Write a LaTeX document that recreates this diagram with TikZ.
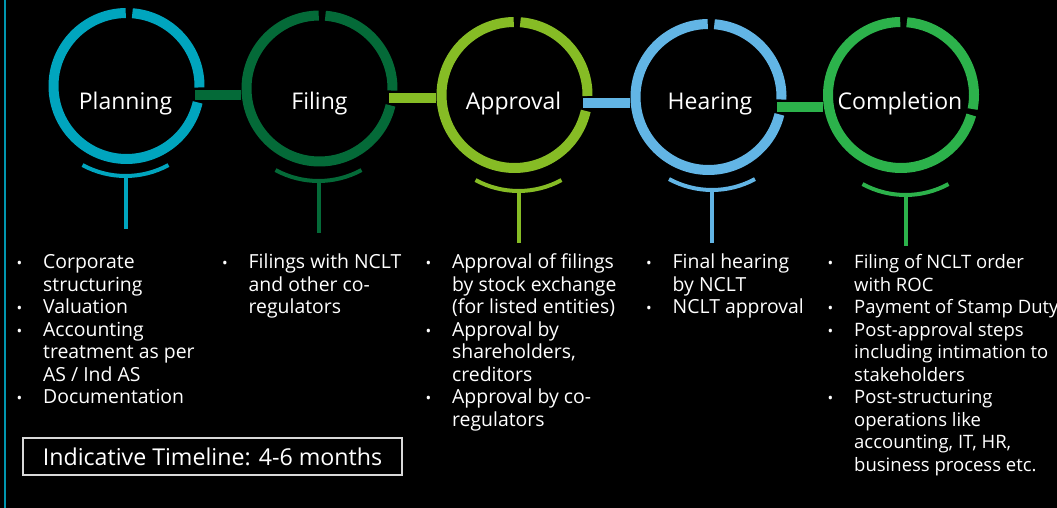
\documentclass[tikz,border=0pt]{standalone}
\usepackage{fontspec}
\setmainfont{Open Sans}
\usetikzlibrary{calc}
\definecolor{planc}{RGB}{0,165,190}
\definecolor{leftc}{RGB}{0,150,175}
\definecolor{filec}{RGB}{4,106,56}
\definecolor{apprc}{RGB}{134,188,37}
\definecolor{hearc}{RGB}{98,181,229}
\definecolor{compc}{RGB}{44,178,75}
\newcommand\bul{\makebox[26.5pt][l]{\fontsize{15}{15}\selectfont •}}
\newcommand\drawring[4]{%
  \draw[ringline,#2] (#1.center) ++(90.6:73) arc[start angle=90.6, end angle={360+#3-#4}, radius=73];
  \draw[ringline,#2] (#1.center) ++({#3+#4}:73) arc[start angle={#3+#4}, end angle=85.4, radius=73];}
\newcommand\drawpin[3]{%
  \draw[pinline,#3] ($(#1)+(0,90)+(241.5:90)$) arc[start angle=241.5, end angle=298.5, radius=90];
  \draw[pinline,#3] (#1) -- (#2);}
\begin{document}
\begin{tikzpicture}[x=1pt,y=1pt,
  ringnode/.style={circle,minimum size=156pt,inner sep=0pt},
  ringline/.style={line width=10pt},
  pinline/.style={line width=4pt},
  barline/.style={line width=10pt},
  lbl/.style={text=white,inner sep=0pt,anchor=base,font=\fontsize{23}{27}\selectfont},
  col/.style={text=white,inner sep=0pt,anchor=base west,font=\fontsize{19.4}{22.5}\selectfont},
  tlbox/.style={draw=white!85!black,line width=1.3pt,minimum width=379pt,minimum height=37pt,inner sep=0pt,text=white,font=\fontsize{23.2}{27}\selectfont}]
\useasboundingbox (0,0) rectangle (1057,508);
\fill[black] (0,0) rectangle (1057,508);
\draw[leftc,line width=2pt] (5,0) -- (5,508);

% circles (named)
\node[ringnode] (c1) at (126.5,422) {};
\node[ringnode] (c2) at (319.5,419.5) {};
\node[ringnode] (c3) at (514.5,413) {};
\node[ringnode] (c4) at (708.5,411) {};
\node[ringnode] (c5) at (901,413) {};

% connecting bars
\draw[barline,filec] ($(c1.center)+(68.5,-9)$) coordinate (b1) -- (b1 -| c2.west);
\draw[barline,apprc] ($(c2.center)+(69.5,-9.5)$) coordinate (b2) -- (b2 -| c3.west);
\draw[barline,hearc] ($(c3.center)+(68.5,-8.5)$) coordinate (b3) -- (b3 -| c4.west);
\draw[barline,compc] ($(c4.center)+(68.5,-10)$) coordinate (b4) -- (b4 -| c5.west);

% rings
\drawring{c1}{planc}{-7.08}{5.9}
\drawring{c2}{filec}{-7.48}{5.9}
\drawring{c3}{apprc}{-6.69}{5.9}
\drawring{c4}{hearc}{-7.87}{5.9}
\drawring{c5}{compc}{-13.5}{2.4}

% labels
\node[lbl] (t1) at (125.5,398) {Planning};
\node[lbl] (t2) at (319.5,398) {Filing};
\node[lbl] (t3) at (513.5,398) {Approval};
\node[lbl] (t4) at (710,398) {Hearing};
\node[lbl] (t5) at (900,398) {Completion};

% pins
\coordinate (p1) at (125.5,332); \coordinate (s1) at (125.5,279);
\coordinate (p2) at (318.5,327); \coordinate (s2) at (318.5,275);
\coordinate (p3) at (518.5,317); \coordinate (s3) at (518.5,265);
\coordinate (p4) at (712,318);   \coordinate (s4) at (712,265);
\coordinate (p5) at (905.5,313); \coordinate (s5) at (905.5,262);
\drawpin{p1}{s1}{planc}
\drawpin{p2}{s2}{filec}
\drawpin{p3}{s3}{apprc}
\drawpin{p4}{s4}{hearc}
\drawpin{p5}{s5}{compc}

% text columns
\node[col] (d1) at (16.5,239) {\begin{tabular}[t]{@{}l@{}l@{}}
\bul & Corporate\\
 & structuring\\
\bul & Valuation\\
\bul & Accounting\\
 & treatment as per\\
 & AS / Ind AS\\
\bul & Documentation
\end{tabular}};
\node[col] (d2) at (222,239) {\begin{tabular}[t]{@{}l@{}l@{}}
\bul & Filings with NCLT\\
 & and other co-\\
 & regulators
\end{tabular}};
\node[col] (d3) at (425.5,239) {\begin{tabular}[t]{@{}l@{}l@{}}
\bul & Approval of filings\\
 & by stock exchange\\
 & (for listed entities)\\
\bul & Approval by\\
 & shareholders,\\
 & creditors\\
\bul & Approval by co-\\
 & regulators
\end{tabular}};
\node[col] (d4) at (646,239) {\begin{tabular}[t]{@{}l@{}l@{}}
\bul & Final hearing\\
 & by NCLT\\
\bul & NCLT approval
\end{tabular}};
\node[col,font=\fontsize{18.5}{22.5}\selectfont] (d5) at (827.5,239) {\begin{tabular}[t]{@{}l@{}l@{}}
\bul & Filing of NCLT order\\
 & with ROC\\
\bul & Payment of Stamp Duty\\
\bul & Post-approval steps\\
 & including intimation to\\
 & stakeholders\\
\bul & Post-structuring\\
 & operations like\\
 & accounting, IT, HR,\\
 & business process etc.
\end{tabular}};

% timeline box
\node[tlbox] (tl) at (212.5,51.5) {Indicative Timeline: 4-6 months};
\end{tikzpicture}
\end{document}
